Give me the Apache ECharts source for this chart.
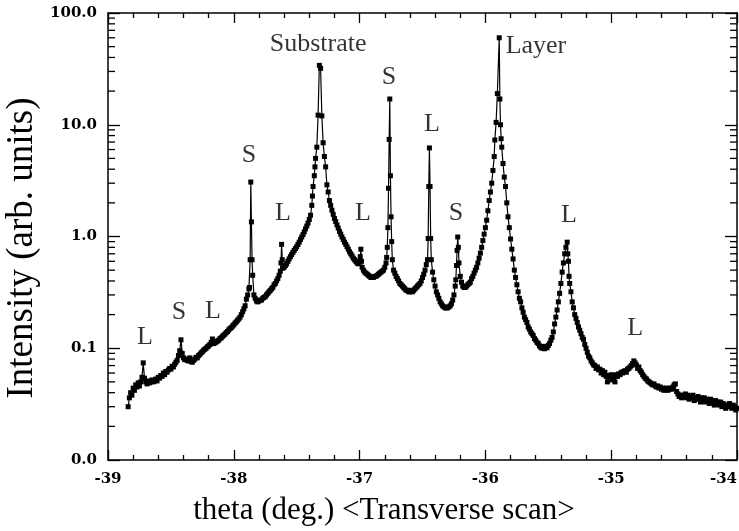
<!DOCTYPE html>
<html><head><meta charset="utf-8">
<script src="https://cdn.jsdelivr.net/npm/echarts@6/dist/echarts.min.js"></script>
<style>html,body{margin:0;padding:0;background:#fff}#c{width:739px;height:531px}</style>
</head><body><div id="c"></div>
<script>
// Transverse scan: [theta (deg), intensity (arb. units)]
const scan = [
[-38.84,0.030],[-38.83,0.036],[-38.82,0.040],[-38.81,0.038],[-38.80,0.044],[-38.79,0.042],[-38.78,0.047],[-38.77,0.045],[-38.76,0.049],[-38.75,0.046],
[-38.74,0.050],[-38.73,0.055],[-38.72,0.074],[-38.71,0.054],[-38.70,0.050],[-38.69,0.048],[-38.68,0.051],[-38.67,0.049],[-38.66,0.050],[-38.65,0.052],
[-38.64,0.050],[-38.63,0.051],[-38.62,0.053],[-38.61,0.051],[-38.60,0.055],[-38.59,0.054],[-38.58,0.057],[-38.57,0.056],[-38.56,0.060],[-38.55,0.058],
[-38.54,0.062],[-38.53,0.061],[-38.52,0.064],[-38.51,0.066],[-38.50,0.065],[-38.49,0.069],[-38.48,0.068],[-38.47,0.072],[-38.46,0.075],[-38.45,0.078],
[-38.44,0.086],[-38.43,0.095],[-38.42,0.119],[-38.41,0.090],[-38.40,0.082],[-38.39,0.079],[-38.38,0.080],[-38.37,0.078],[-38.36,0.077],[-38.35,0.082],
[-38.34,0.076],[-38.33,0.075],[-38.32,0.078],[-38.31,0.080],[-38.30,0.083],[-38.29,0.082],[-38.28,0.086],[-38.27,0.088],[-38.26,0.091],[-38.25,0.093],
[-38.24,0.096],[-38.23,0.098],[-38.22,0.100],[-38.21,0.103],[-38.20,0.105],[-38.19,0.108],[-38.18,0.113],[-38.17,0.121],[-38.16,0.110],[-38.15,0.112],
[-38.14,0.114],[-38.13,0.116],[-38.12,0.118],[-38.11,0.122],[-38.10,0.124],[-38.09,0.128],[-38.08,0.131],[-38.07,0.134],[-38.06,0.138],[-38.05,0.141],
[-38.04,0.146],[-38.03,0.150],[-38.02,0.153],[-38.01,0.158],[-38.00,0.162],[-37.99,0.168],[-37.98,0.172],[-37.97,0.178],[-37.96,0.183],[-37.95,0.190],
[-37.94,0.200],[-37.93,0.212],[-37.92,0.225],[-37.91,0.240],[-37.90,0.275],[-37.89,0.300],[-37.88,0.340],[-37.875,0.35],[-37.87,0.62],[-37.865,3.07],
[-37.86,1.35],[-37.855,0.62],[-37.85,0.45],[-37.84,0.30],[-37.83,0.28],[-37.82,0.265],[-37.81,0.26],[-37.80,0.265],[-37.79,0.27],[-37.78,0.27],
[-37.77,0.28],[-37.76,0.285],[-37.75,0.29],[-37.74,0.30],[-37.73,0.31],[-37.72,0.32],[-37.71,0.33],[-37.70,0.34],[-37.69,0.35],[-37.68,0.37],
[-37.67,0.38],[-37.66,0.40],[-37.65,0.42],[-37.64,0.45],[-37.63,0.49],[-37.625,0.58],[-37.62,0.85],[-37.615,0.62],[-37.61,0.52],[-37.60,0.53],
[-37.59,0.55],[-37.58,0.57],[-37.57,0.60],[-37.56,0.63],[-37.55,0.66],[-37.54,0.69],[-37.53,0.72],[-37.52,0.75],[-37.51,0.78],[-37.50,0.81],
[-37.49,0.85],[-37.48,0.89],[-37.47,0.94],[-37.46,0.99],[-37.45,1.04],[-37.44,1.10],[-37.43,1.17],[-37.42,1.24],[-37.41,1.32],[-37.40,1.42],
[-37.39,1.55],[-37.38,1.90],[-37.375,2.3],[-37.37,2.8],[-37.36,3.5],[-37.355,4.2],[-37.35,5.0],[-37.34,6.3],[-37.33,12.2],[-37.32,34],
[-37.31,32],[-37.30,12],[-37.29,6.9],[-37.28,5.2],[-37.27,4.2],[-37.26,2.9],[-37.25,2.5],[-37.24,2.1],[-37.23,1.9],[-37.22,1.72],
[-37.21,1.58],[-37.20,1.45],[-37.19,1.36],[-37.18,1.27],[-37.17,1.19],[-37.16,1.11],[-37.15,1.05],[-37.14,0.99],[-37.13,0.94],[-37.12,0.89],
[-37.11,0.85],[-37.10,0.81],[-37.09,0.77],[-37.08,0.73],[-37.07,0.70],[-37.06,0.67],[-37.05,0.64],[-37.04,0.62],[-37.03,0.60],[-37.02,0.58],
[-37.01,0.57],[-37.00,0.60],[-36.995,0.66],[-36.99,0.77],[-36.985,0.60],[-36.98,0.53],[-36.97,0.50],[-36.96,0.48],[-36.95,0.47],[-36.94,0.46],
[-36.93,0.45],[-36.92,0.44],[-36.91,0.43],[-36.90,0.43],[-36.89,0.43],[-36.88,0.44],[-36.87,0.44],[-36.86,0.45],[-36.85,0.46],[-36.84,0.47],
[-36.83,0.48],[-36.82,0.49],[-36.81,0.50],[-36.80,0.53],[-36.79,0.58],[-36.785,0.65],[-36.78,0.80],[-36.775,1.2],[-36.77,2.7],[-36.765,7.4],
[-36.76,17],[-36.755,3.5],[-36.75,1.5],[-36.745,0.9],[-36.74,0.62],[-36.73,0.50],[-36.72,0.47],[-36.71,0.44],[-36.70,0.42],[-36.69,0.40],
[-36.68,0.38],[-36.67,0.37],[-36.66,0.36],[-36.65,0.35],[-36.64,0.34],[-36.63,0.33],[-36.62,0.33],[-36.61,0.32],[-36.60,0.32],[-36.59,0.33],
[-36.58,0.32],[-36.57,0.33],[-36.56,0.34],[-36.55,0.35],[-36.54,0.36],[-36.53,0.37],[-36.52,0.38],[-36.51,0.40],[-36.50,0.43],[-36.49,0.46],
[-36.48,0.50],[-36.47,0.56],[-36.46,0.62],[-36.455,0.96],[-36.45,2.8],[-36.445,6.2],[-36.44,2.8],[-36.435,0.96],[-36.43,0.62],[-36.42,0.48],
[-36.41,0.41],[-36.40,0.36],[-36.39,0.32],[-36.38,0.30],[-36.37,0.28],[-36.36,0.26],[-36.35,0.25],[-36.34,0.24],[-36.33,0.235],[-36.32,0.23],
[-36.31,0.23],[-36.30,0.23],[-36.29,0.235],[-36.28,0.24],[-36.27,0.25],[-36.26,0.27],[-36.25,0.30],[-36.24,0.36],[-36.235,0.41],[-36.23,0.55],
[-36.225,0.75],[-36.22,0.99],[-36.215,0.80],[-36.21,0.58],[-36.20,0.44],[-36.19,0.39],[-36.18,0.36],[-36.17,0.35],[-36.16,0.35],[-36.15,0.36],
[-36.14,0.37],[-36.13,0.38],[-36.12,0.39],[-36.11,0.42],[-36.10,0.44],[-36.09,0.47],[-36.08,0.50],[-36.07,0.53],[-36.06,0.58],[-36.05,0.64],
[-36.04,0.71],[-36.03,0.80],[-36.02,0.92],[-36.01,1.05],[-36.00,1.20],[-35.99,1.40],[-35.98,1.70],[-35.97,2.1],[-35.96,2.5],[-35.95,3.0],
[-35.94,3.9],[-35.93,5.2],[-35.925,7.3],[-35.915,10.5],[-35.905,19],[-35.89,60],[-35.885,17],[-35.88,10],[-35.875,7.5],[-35.87,6.3],
[-35.86,4.5],[-35.85,3.4],[-35.84,2.8],[-35.83,2.0],[-35.82,1.5],[-35.81,1.2],[-35.80,0.95],[-35.79,0.77],[-35.78,0.63],[-35.77,0.50],
[-35.76,0.43],[-35.75,0.37],[-35.74,0.32],[-35.73,0.28],[-35.72,0.26],[-35.71,0.23],[-35.70,0.21],[-35.69,0.19],[-35.68,0.18],[-35.67,0.17],
[-35.66,0.155],[-35.65,0.148],[-35.64,0.140],[-35.63,0.135],[-35.62,0.130],[-35.61,0.122],[-35.60,0.118],[-35.59,0.113],[-35.58,0.110],[-35.57,0.105],
[-35.56,0.102],[-35.55,0.100],[-35.54,0.104],[-35.53,0.099],[-35.52,0.103],[-35.51,0.101],[-35.50,0.106],[-35.49,0.110],[-35.48,0.118],[-35.47,0.125],
[-35.46,0.140],[-35.45,0.165],[-35.44,0.19],[-35.43,0.22],[-35.42,0.26],[-35.41,0.31],[-35.40,0.38],[-35.39,0.48],[-35.38,0.58],[-35.37,0.70],
[-35.36,0.80],[-35.35,0.89],[-35.345,0.70],[-35.34,0.60],[-35.335,0.44],[-35.33,0.38],[-35.32,0.32],[-35.31,0.26],[-35.30,0.23],[-35.29,0.20],
[-35.28,0.185],[-35.27,0.17],[-35.26,0.155],[-35.25,0.145],[-35.24,0.135],[-35.23,0.125],[-35.22,0.12],[-35.21,0.108],[-35.20,0.100],[-35.19,0.092],
[-35.18,0.085],[-35.17,0.082],[-35.16,0.077],[-35.15,0.074],[-35.14,0.071],[-35.13,0.070],[-35.12,0.066],[-35.11,0.068],[-35.10,0.064],[-35.09,0.065],
[-35.08,0.060],[-35.07,0.063],[-35.06,0.058],[-35.05,0.061],[-35.04,0.056],[-35.03,0.050],[-35.02,0.057],[-35.01,0.055],[-35.00,0.058],[-34.99,0.052],
[-34.98,0.057],[-34.97,0.050],[-34.96,0.058],[-34.95,0.056],[-34.94,0.059],[-34.93,0.058],[-34.92,0.061],[-34.91,0.060],[-34.90,0.062],[-34.89,0.063],
[-34.88,0.061],[-34.87,0.065],[-34.86,0.066],[-34.85,0.068],[-34.84,0.070],[-34.83,0.073],[-34.82,0.077],[-34.81,0.074],[-34.80,0.071],[-34.79,0.066],
[-34.78,0.068],[-34.77,0.063],[-34.76,0.061],[-34.75,0.058],[-34.74,0.056],[-34.73,0.054],[-34.72,0.053],[-34.71,0.051],[-34.70,0.050],[-34.69,0.049],
[-34.68,0.048],[-34.67,0.047],[-34.66,0.048],[-34.65,0.046],[-34.64,0.045],[-34.63,0.046],[-34.62,0.044],[-34.61,0.045],[-34.60,0.043],[-34.59,0.044],
[-34.58,0.042],[-34.57,0.043],[-34.56,0.044],[-34.55,0.042],[-34.54,0.043],[-34.53,0.044],[-34.52,0.043],[-34.51,0.045],[-34.50,0.047],[-34.49,0.048],
[-34.48,0.041],[-34.47,0.039],[-34.46,0.037],[-34.45,0.038],[-34.44,0.036],[-34.43,0.038],[-34.42,0.037],[-34.41,0.039],[-34.40,0.036],[-34.39,0.038],
[-34.38,0.035],[-34.37,0.037],[-34.36,0.036],[-34.35,0.038],[-34.34,0.034],[-34.33,0.036],[-34.32,0.035],[-34.31,0.037],[-34.30,0.035],[-34.29,0.033],
[-34.28,0.036],[-34.27,0.034],[-34.26,0.036],[-34.25,0.033],[-34.24,0.035],[-34.23,0.034],[-34.22,0.032],[-34.21,0.035],[-34.20,0.033],[-34.19,0.034],
[-34.18,0.031],[-34.17,0.034],[-34.16,0.032],[-34.15,0.033],[-34.14,0.031],[-34.13,0.033],[-34.12,0.030],[-34.11,0.032],[-34.10,0.031],[-34.09,0.029],
[-34.08,0.031],[-34.07,0.030],[-34.06,0.032],[-34.05,0.030],[-34.04,0.029],[-34.03,0.031],[-34.02,0.030],[-34.01,0.028],[-34.00,0.029]
];

// Peak annotations
const peakLabels     = ['L','S','L','S','L','Substrate','L','S','L','S','Layer','L','L'];
const labelTheta     = [-38.706,-38.436,-38.165,-37.879,-37.61,-37.33,-36.973,-36.766,-36.424,-36.234,-35.598,-35.335,-34.81];
const labelIntensity = [0.126,0.211,0.215,5.36,1.62,52.8,1.62,26.7,10.2,1.62,50.7,1.56,0.152];

// Axis ranges and ticks
const thetaMin = -39, thetaMax = -34, thetaStep = 1;
const intensityMin = 0.01, intensityMax = 100;
const yMinorTicks = [];
[0.01,0.1,1,10].forEach(function(d){ for (let k=2;k<=9;k++) yMinorTicks.push(+(d*k).toPrecision(3)); });

const xTitle = 'theta (deg.) <Transverse scan>';
const yTitle = 'Intensity (arb. units)';

const chart = echarts.init(document.getElementById('c'), null, {renderer:'canvas'});
const tickFont = {fontFamily:'DejaVu Serif', fontWeight:'bold', fontSize:15, color:'#000'};
const lineSt = {color:'#000', width:1.5};

function xAx(pos, showLabel){
  return {type:'value', position:pos, min:thetaMin, max:thetaMax, interval:thetaStep,
    axisLine:{show:true, onZero:false, lineStyle:lineSt},
    axisTick:{show:true, inside:true, length:10, lineStyle:{color:'#000', width:1.3}},
    minorTick:{show:true, splitNumber:5, length:5, lineStyle:{color:'#000', width:1.3}},
    splitLine:{show:false}, minorSplitLine:{show:false},
    axisLabel:Object.assign({show:showLabel, margin:12, showMinLabel:true, showMaxLabel:true, alignMaxLabel:'right'}, tickFont)};
}
function yAx(pos, showLabel){
  return {type:'log', logBase:10, position:pos, min:intensityMin, max:intensityMax,
    axisLine:{show:true, onZero:false, lineStyle:lineSt},
    axisTick:{show:true, inside:true, length:12, lineStyle:{color:'#000', width:1.3}},
    splitLine:{show:false},
    axisLabel:Object.assign({show:showLabel, margin:11, formatter:function(v){return (+v).toFixed(1);}}, tickFont)};
}

chart.setOption({
  animation:false,
  backgroundColor:'#fff',
  grid:{left:108, right:2, top:13, bottom:71, containLabel:false, outerBoundsMode:'none'},
  xAxis:[xAx('bottom', true), xAx('top', false)],
  yAxis:[yAx('left', true), yAx('right', false)],
  graphic:[
    {type:'text', x:384, y:511, style:{text:xTitle, fontFamily:'Liberation Serif', fontSize:31, fill:'#000', textAlign:'center', textVerticalAlign:'middle'}},
    {type:'text', x:22, y:248, rotation:Math.PI/2, style:{text:yTitle, fontFamily:'Liberation Serif', fontSize:37, fill:'#000', textAlign:'center', textVerticalAlign:'middle'}}
  ],
  series:[
    {type:'line', xAxisIndex:0, yAxisIndex:0, data:scan, symbol:'rect', symbolSize:5, showSymbol:true,
     lineStyle:{color:'#000', width:1.2}, itemStyle:{color:'#000'}, z:3},
    {type:'custom', xAxisIndex:0, yAxisIndex:0, data:yMinorTicks.map(function(v){return [thetaMin, v];}),
     clip:false, silent:true, z:4,
     renderItem:function(params, api){
       const v = api.value(1);
       const pl = api.coord([thetaMin, v]);
       const pr = api.coord([thetaMax, v]);
       return {type:'group', children:[
         {type:'line', shape:{x1:pl[0], y1:pl[1], x2:pl[0]+7, y2:pl[1]}, style:{stroke:'#000', lineWidth:1.3}},
         {type:'line', shape:{x1:pr[0], y1:pr[1], x2:pr[0]-7, y2:pr[1]}, style:{stroke:'#000', lineWidth:1.3}}
       ]};
     }},
    {type:'scatter', xAxisIndex:0, yAxisIndex:0, silent:true, z:5,
     data:labelTheta.map(function(t,i){return [t, labelIntensity[i], peakLabels[i]];}),
     symbolSize:1, itemStyle:{color:'rgba(0,0,0,0)'},
     label:{show:true, position:'inside', formatter:function(p){return p.value[2];},
       fontFamily:'Liberation Serif', fontSize:26, color:'#000'}}
  ]
});
</script>
</body></html>
